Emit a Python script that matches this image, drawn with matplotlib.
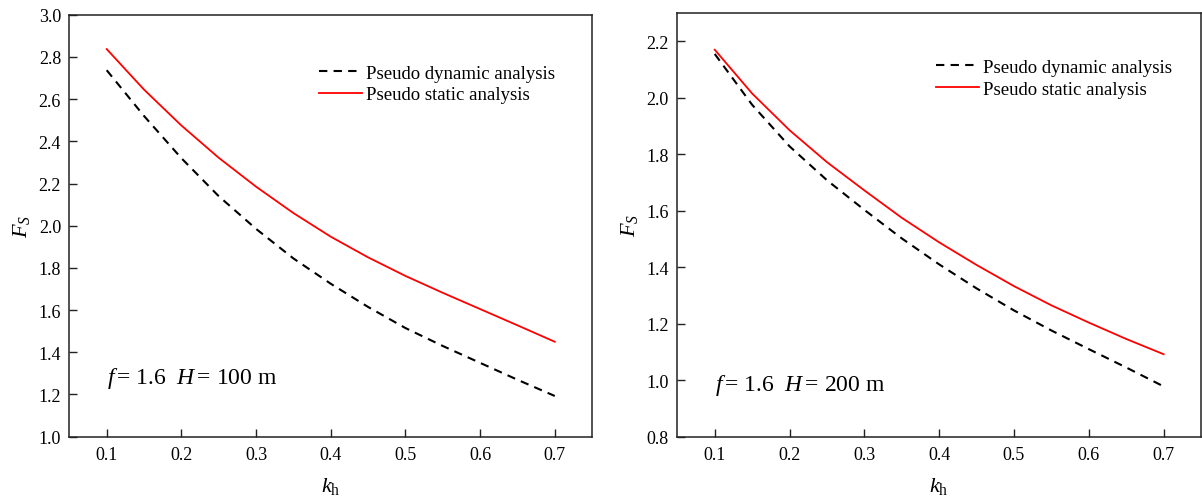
import numpy as np
import matplotlib
matplotlib.use("Agg")
import matplotlib.pyplot as plt

# Horizontal seismic coefficient
kh = [0.10, 0.15, 0.20, 0.25, 0.30, 0.35, 0.40, 0.45, 0.50, 0.55, 0.60, 0.65, 0.70]

# Factor of safety, H = 100 m
fs_dynamic_100 = [2.737, 2.520, 2.320, 2.140, 1.985, 1.845, 1.725, 1.615, 1.515, 1.430, 1.350, 1.270, 1.193]
fs_static_100 = [2.837, 2.645, 2.475, 2.322, 2.185, 2.060, 1.948, 1.850, 1.762, 1.682, 1.605, 1.528, 1.450]

# Factor of safety, H = 200 m
fs_dynamic_200 = [2.155, 1.975, 1.828, 1.708, 1.603, 1.502, 1.410, 1.325, 1.247, 1.176, 1.110, 1.045, 0.978]
fs_static_200 = [2.170, 2.015, 1.885, 1.772, 1.672, 1.575, 1.488, 1.408, 1.333, 1.265, 1.204, 1.146, 1.092]

x_ticks = [0.1, 0.2, 0.3, 0.4, 0.5, 0.6, 0.7]

plt.rcParams["font.family"] = ["Liberation Serif", "DejaVu Serif"]
plt.rcParams["mathtext.fontset"] = "custom"
plt.rcParams["mathtext.rm"] = "Liberation Serif"
plt.rcParams["mathtext.it"] = "Liberation Serif:italic"


def draw_panel(ax, dyn, sta, ylim, yticks, note, legend_anchor, note_pos):
    ax.plot(kh, dyn, color="black", lw=1.5, dashes=(4.0, 3.0), label="Pseudo dynamic analysis")
    ax.plot(kh, sta, color="red", lw=1.3, label="Pseudo static analysis")
    ax.set_xlim(0.05, 0.75)
    ax.set_ylim(*ylim)
    ax.set_xticks(x_ticks)
    ax.set_yticks(yticks)
    ax.xaxis.set_major_formatter(plt.FormatStrFormatter("%.1f"))
    ax.yaxis.set_major_formatter(plt.FormatStrFormatter("%.1f"))
    ax.tick_params(direction="in", length=5.5, width=1.0, labelsize=13, color="#222222")
    ax.tick_params(axis="x", pad=7)
    ax.tick_params(axis="y", pad=6)
    for s in ax.spines.values():
        s.set_linewidth(1.1)
        s.set_color("#222222")
    ax.set_xlabel(r"$k_{\mathrm{h}}$", fontsize=16, labelpad=8)
    ax.set_ylabel(r"$F_S$", fontsize=16, labelpad=5)
    ax.legend(loc="upper left", bbox_to_anchor=legend_anchor, frameon=False,
              fontsize=13.5, handlelength=2.3, handletextpad=0.2,
              labelspacing=0.25, borderpad=0, borderaxespad=0)
    ax.text(note_pos[0], note_pos[1], note, transform=ax.transAxes,
            fontsize=17, va="center", ha="left")


fig = plt.figure(figsize=(12.02, 5.02), dpi=100)
ax1 = fig.add_axes([0.0577, 0.1281, 0.4349, 0.8406])
ax2 = fig.add_axes([0.5635, 0.1281, 0.4357, 0.8440])

draw_panel(ax1, fs_dynamic_100, fs_static_100, (1.0, 3.0), np.arange(1.0, 3.01, 0.2),
           r"$f\,$= 1.6  $H\,$= 100 m", (0.478, 0.882), (0.072, 0.141))
draw_panel(ax2, fs_dynamic_200, fs_static_200, (0.8, 2.3), np.arange(0.8, 2.21, 0.2),
           r"$f\,$= 1.6  $H\,$= 200 m", (0.494, 0.892), (0.072, 0.124))

fig.savefig("out.png", dpi=100)
